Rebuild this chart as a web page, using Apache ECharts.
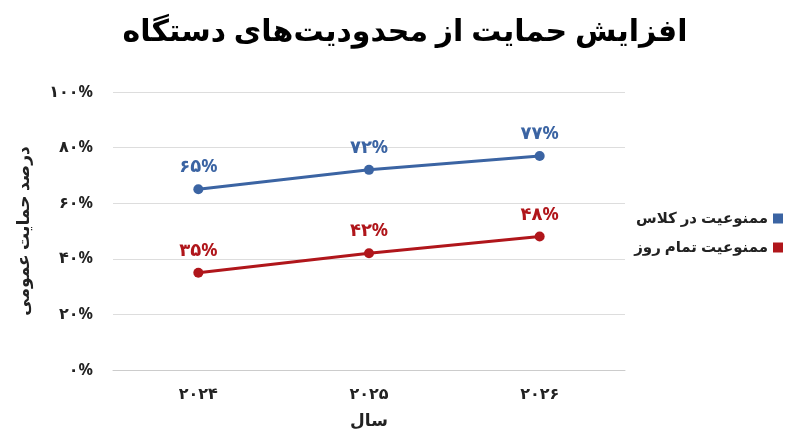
<!DOCTYPE html><html><head><meta charset="utf-8"><script src="https://cdn.jsdelivr.net/npm/echarts@6/dist/echarts.min.js"></script></head><body style="margin:0"><div id="c" style="width:800px;height:447px"></div><script>
const categories=['2024','2025','2026'];
const classBan=[65,72,77];
const dayBan=[35,42,48];
const yTicks=[0,20,40,60,80,100];
const fa=s=>String(s).replace(/\d/g,d=>'۰۱۲۳۴۵۶۷۸۹'[d]);
const F='"Noto Sans", "DejaVu Sans", sans-serif';
const c=echarts.init(document.getElementById('c'));
c.setOption({
textStyle:{fontFamily:F},
title:{text:'افزایش حمایت از محدودیت‌های دستگاه',left:400,textAlign:'center',top:12,textStyle:{fontSize:30,fontWeight:'bold',color:'#000',fontFamily:F}},
grid:{left:113,right:175,top:92,bottom:77},
legend:{orient:'vertical',right:12,top:206,align:'right',itemWidth:10,itemHeight:10,itemGap:14,icon:'rect',textStyle:{fontSize:15,fontWeight:'bold',color:'#222'},data:['ممنوعیت در کلاس','ممنوعیت تمام روز']},
xAxis:{type:'category',data:categories,name:'سال',nameLocation:'middle',nameGap:43,nameTextStyle:{fontSize:17,fontWeight:'bold',color:'#222'},axisLine:{lineStyle:{color:'#ccc'}},axisTick:{show:false},axisLabel:{formatter:fa,fontSize:16,fontWeight:'bold',color:'#222',margin:16}},
yAxis:{type:'value',min:0,max:100,interval:20,name:'درصد حمایت عمومی',nameLocation:'middle',nameGap:80,nameRotate:90,nameTextStyle:{fontSize:17,fontWeight:'bold',color:'#222'},axisLabel:{formatter:v=>fa(v)+'%',fontSize:16,fontWeight:'bold',color:'#222',margin:20},splitLine:{lineStyle:{color:'#ddd'}}},
series:[
{name:'ممنوعیت در کلاس',type:'line',data:classBan,color:'#3b64a3',symbol:'circle',symbolSize:10,lineStyle:{width:3},label:{show:true,position:'top',distance:8,formatter:p=>fa(p.value)+'%',fontSize:18,fontWeight:'bold',color:'#3b64a3'}},
{name:'ممنوعیت تمام روز',type:'line',data:dayBan,color:'#b0161b',symbol:'circle',symbolSize:10,lineStyle:{width:3},label:{show:true,position:'top',distance:8,formatter:p=>fa(p.value)+'%',fontSize:18,fontWeight:'bold',color:'#b0161b'}}
]});
</script></body></html>
